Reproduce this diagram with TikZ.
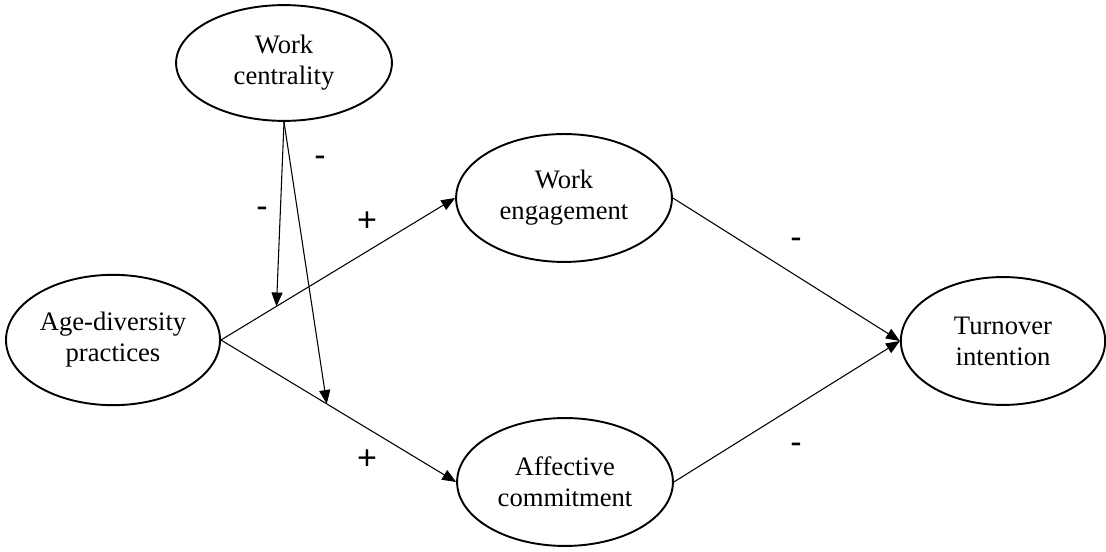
\documentclass[tikz,border=0pt]{standalone}
\usepackage{fontspec}
\setmainfont{Liberation Serif}
\setsansfont{Liberation Sans}
\usetikzlibrary{shapes.geometric,arrows.meta,calc}
\tikzset{
    construct/.style={draw, ellipse, line width=0.9pt, inner sep=0pt,
        minimum width=3.56cm, minimum height=2.11cm, align=center,
        font=\fontsize{12.5}{14.5}\selectfont},
    link/.style={line width=0.5pt, -{Triangle[length=6.5pt,width=5.2pt]}},
    sign/.style={inner sep=0pt, font=\sffamily\fontsize{16}{16}\selectfont}
}
\begin{document}
\begin{tikzpicture}[x=0.0165cm, y=-0.0165cm]
    \useasboundingbox (0,0) rectangle (1106,552);
    \node[construct, minimum height=1.91cm] (wc) at (284, 63) {Work\\centrality};
    \node[construct] (we) at (564, 198) {Work\\engagement};
    \node[construct, minimum width=3.53cm, minimum height=2.15cm] (ad) at (113, 340) {Age-diversity\\practices};
    \node[construct, minimum width=3.37cm] (ti) at (1003, 341) {Turnover\\intention};
    \node[construct] (ac) at (565, 482) {Affective\\commitment};
    \coordinate (mwe) at ($(ad.east)!0.237!(we.west)$);
    \coordinate (mac) at ($(ad.east)!0.45!(ac.west)$);
    \draw[link] (ad.east) -- (we.west);
    \draw[link] (ad.east) -- (ac.west);
    \draw[link] (we.east) -- (ti.west);
    \draw[link] (ac.east) -- (ti.west);
    \draw[link] (wc.south) -- (mwe);
    \draw[link] (wc.south) -- (mac);
    \node[sign] (s1) at (262, 212) {-};
    \node[sign] (s2) at (320, 161) {-};
    \node[sign] (s3) at (367, 222) {+};
    \node[sign] (s4) at (367, 460) {+};
    \node[sign] (s5) at (796, 243) {-};
    \node[sign] (s6) at (796, 448) {-};
\end{tikzpicture}
\end{document}
